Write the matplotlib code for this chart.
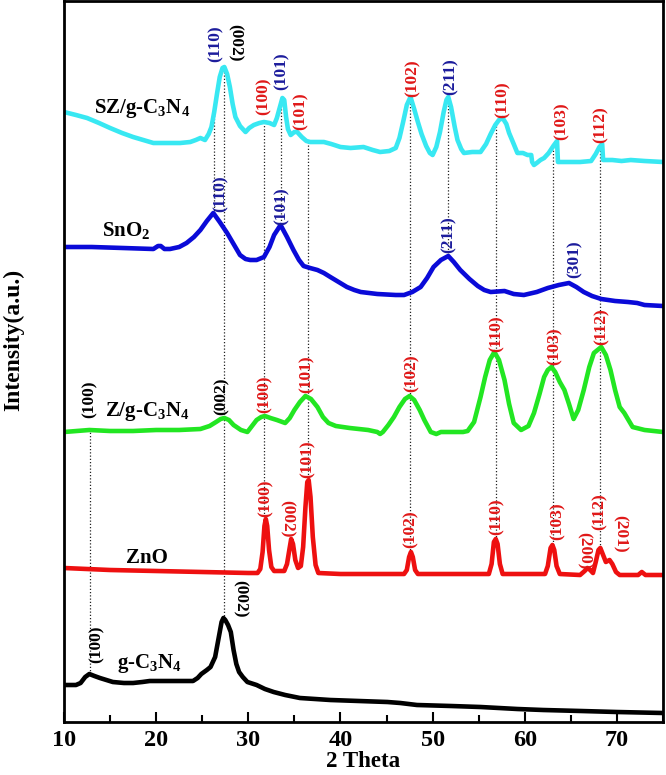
import numpy as np
import matplotlib
matplotlib.use("Agg")
import matplotlib.pyplot as plt

plt.rcParams['font.family'] = ['Liberation Serif', 'DejaVu Serif']
plt.rcParams['font.weight'] = 'bold'
plt.rcParams['mathtext.default'] = 'regular'

# ---------------- data (2 theta, stacked intensity a.u.) ----------------
gcn = [(10, 37), (11.3, 37), (11.8, 39), (12.3, 45), (12.75, 48), (13.3, 46), (13.9, 44), (14.6, 42),
       (15.3, 40), (16.5, 39), (17.5, 39), (18.5, 40), (19.3, 41), (21.0, 41), (23.0, 41), (24.0, 41),
       (24.5, 44), (24.9, 48), (25.5, 52), (25.9, 55), (26.4, 65), (26.8, 85), (27.1, 100), (27.3, 104),
       (27.5, 102), (27.8, 97), (28.1, 90), (28.4, 72), (28.7, 58), (29.0, 50), (29.4, 45), (29.9, 40),
       (30.9, 37), (31.8, 33), (32.75, 30), (34.0, 27), (35.6, 24), (38.9, 22), (42.0, 21), (45.1, 20),
       (46.5, 19), (48.3, 17), (52.0, 16), (55.2, 15), (59.2, 13), (62.0, 12), (66.1, 11), (70.0, 10),
       (75.0, 9)]

zno = [(10, 154), (15, 152), (20, 151), (25, 150), (30, 149), (31.0, 149), (31.3, 153), (31.55, 170),
       (31.75, 196), (31.9, 203), (32.05, 196), (32.25, 172), (32.5, 155), (32.8, 151), (33.2, 151),
       (33.9, 151), (34.2, 158), (34.45, 172), (34.65, 183), (34.85, 178), (35.1, 162), (35.4, 154),
       (35.7, 156), (35.95, 175), (36.2, 215), (36.4, 240), (36.55, 242), (36.75, 225), (37.0, 185),
       (37.3, 157), (37.6, 149), (40, 148), (45, 148), (46.9, 148), (47.2, 152), (47.45, 165),
       (47.65, 170), (47.85, 165), (48.1, 152), (48.4, 148), (50, 148), (55, 148), (56.1, 148),
       (56.4, 158), (56.65, 180), (56.85, 183), (57.05, 178), (57.3, 158), (57.6, 148), (60, 148),
       (62.2, 148), (62.5, 156), (62.8, 174), (63.0, 177), (63.2, 172), (63.45, 156), (63.8, 148),
       (66.0, 147), (66.5, 151), (66.8, 154), (67.1, 152), (67.4, 149), (67.7, 160), (68.0, 172),
       (68.2, 174), (68.5, 167), (68.8, 160), (69.2, 162), (69.5, 158), (69.9, 150), (70.3, 147),
       (72.3, 147), (72.7, 150), (73.1, 147), (75, 147)]

zgcn = [(10, 290), (12.75, 292), (15, 291), (17.5, 291), (20, 292), (22.5, 292), (24.8, 293), (25.8, 296),
        (26.5, 300), (27.0, 303), (27.4, 304), (27.9, 302), (28.4, 297), (29.2, 292), (29.9, 290),
        (30.4, 296), (30.9, 302), (31.4, 305), (31.8, 306), (32.4, 304), (33.1, 302), (34.0, 299),
        (34.5, 304), (35.0, 312), (35.6, 320), (36.2, 326), (36.8, 323), (37.5, 315), (38.1, 305),
        (38.7, 299), (39.5, 296), (41, 294), (43, 292), (44.0, 290), (44.3, 288), (44.6, 290),
        (45.2, 297), (45.8, 305), (46.4, 315), (47.0, 323), (47.5, 326), (48.0, 322), (48.6, 312),
        (49.1, 302), (49.8, 290), (50.4, 288), (50.9, 290), (52, 290), (53.3, 290), (53.8, 291),
        (54.5, 300), (55.2, 325), (55.7, 345), (56.2, 362), (56.7, 370), (57.2, 362), (57.8, 342),
        (58.3, 318), (58.8, 299), (59.6, 292), (60.4, 296), (61.0, 309), (61.6, 328), (62.1, 345),
        (62.5, 352), (62.9, 355), (63.3, 350), (63.8, 340), (64.3, 332), (64.8, 318), (65.3, 303),
        (65.8, 312), (66.4, 332), (67.0, 355), (67.5, 369), (68.3, 375), (68.8, 367), (69.3, 352),
        (69.8, 332), (70.3, 315), (70.8, 309), (71.7, 295), (73, 292), (75, 290)]

sno2 = [(10, 475), (13, 475), (16.4, 474), (19.7, 473), (20.2, 476), (20.5, 476), (20.9, 473),
        (21.5, 473), (22.5, 475), (23.3, 479), (24.1, 485), (24.8, 492), (25.5, 501), (26.2, 509),
        (26.9, 500), (27.7, 489), (28.4, 478), (29.1, 467), (29.7, 463), (30.2, 462), (30.9, 462),
        (31.7, 465), (32.3, 475), (32.8, 487), (33.5, 497), (34.2, 485), (34.9, 472), (35.5, 462),
        (36.0, 456), (36.7, 454), (37.5, 452), (38.2, 449), (38.9, 445), (39.8, 440), (40.7, 435),
        (41.5, 432), (42.2, 430), (44, 428), (46.0, 427), (46.9, 427), (47.8, 430), (48.7, 435),
        (49.4, 444), (50.1, 455), (50.9, 462), (51.7, 466), (52.3, 460), (53.0, 452), (54.0, 443),
        (54.9, 436), (55.6, 432), (56.3, 430), (57.8, 431), (58.8, 428), (59.9, 427), (61.3, 430),
        (62.5, 434), (63.7, 437), (64.8, 439), (65.6, 435), (66.4, 430), (67.3, 426), (68.3, 423),
        (69.8, 421), (71.2, 420), (72.2, 419), (73.0, 417), (75, 416)]

szgcn = [(10, 610), (11.3, 607), (12.5, 604), (13.8, 599), (15.0, 594), (16.3, 589), (17.5, 585),
         (18.6, 582), (19.7, 579), (21, 579), (22.6, 579), (23.7, 580), (24.3, 582), (24.8, 584),
         (25.3, 582), (25.7, 588), (26.0, 595), (26.3, 610), (26.6, 628), (26.9, 645), (27.2, 654),
         (27.4, 655), (27.7, 648), (28.0, 635), (28.3, 618), (28.6, 605), (29.1, 596), (29.7, 590),
         (30.1, 594), (30.6, 597), (31.2, 599), (31.7, 600), (32.3, 599), (32.8, 597), (33.1, 604),
         (33.4, 614), (33.7, 624), (33.9, 622), (34.1, 605), (34.3, 593), (34.6, 587), (35.0, 590),
         (35.3, 590), (35.8, 585), (36.3, 581), (36.7, 580), (37.5, 580), (38.2, 580), (39.0, 578),
         (40.0, 575), (41.1, 574), (42.5, 575), (43.5, 572), (44.3, 570), (45.3, 571), (46.0, 574),
         (46.4, 584), (46.8, 600), (47.2, 617), (47.6, 625), (48.0, 613), (48.4, 600), (48.8, 588),
         (49.3, 576), (49.7, 569), (50.0, 567), (50.4, 575), (50.8, 590), (51.2, 610), (51.5, 622),
         (51.7, 625), (52.0, 615), (52.4, 595), (52.7, 582), (53.1, 573), (53.4, 569), (54.3, 570),
         (55.2, 570), (55.8, 578), (56.3, 588), (56.8, 597), (57.2, 602), (57.6, 604), (58.0, 598),
         (58.3, 589), (58.8, 578), (59.2, 569), (59.8, 569), (60.3, 567), (60.7, 567), (60.8, 560),
         (61.0, 557), (61.3, 559), (61.7, 562), (62.1, 564), (62.6, 569), (63.1, 576), (63.5, 581),
         (63.6, 560), (64.5, 560), (66, 560), (67.2, 561), (67.7, 568), (68.1, 575), (68.4, 578),
         (68.5, 562), (69.5, 562), (70.5, 561), (71.5, 562), (73, 561), (75, 560)]

# curve names: (text, theta of left edge, baseline intensity)
names = [("SZ/g-C$_3$N$_4$", 13.3, 609), ("SnO$_2$", 14.1, 486), ("Z/g-C$_3$N$_4$", 14.5, 306),
         ("ZnO", 16.7, 159), ("g-C$_3$N$_4$", 15.8, 54)]

# hkl labels: (text, theta, intensity at label foot, phase, rotation)
hkl = [("(110)", 26.5, 660, "S", 90), ("(002)", 28.5, 660, "G", 270), ("(100)", 31.7, 607, "Z", 90),
       ("(101)", 33.6, 632, "S", 90), ("(101)", 35.7, 592, "Z", 90), ("(102)", 47.8, 625, "Z", 90),
       ("(211)", 52.0, 627, "S", 90), ("(110)", 57.6, 604, "Z", 90), ("(103)", 64.0, 582, "Z", 90),
       ("(112)", 68.2, 579, "Z", 90),
       ("(110)", 27.0, 510, "S", 90), ("(101)", 33.6, 497, "S", 90), ("(211)", 51.7, 469, "S", 90),
       ("(301)", 65.4, 444, "S", 90),
       ("(100)", 12.75, 304, "G", 90), ("(002)", 27.1, 307, "G", 90), ("(100)", 31.8, 309, "Z", 90),
       ("(101)", 36.3, 329, "Z", 90), ("(102)", 47.7, 330, "Z", 90), ("(110)", 56.9, 370, "Z", 90),
       ("(103)", 63.2, 357, "Z", 90), ("(112)", 68.3, 377, "Z", 90),
       ("(100)", 31.9, 205, "Z", 90), ("(002)", 34.2, 185, "Z", 270), ("(101)", 36.4, 244, "Z", 90),
       ("(102)", 47.6, 174, "Z", 90), ("(110)", 57.0, 187, "Z", 90), ("(103)", 63.6, 182, "Z", 90),
       ("(200)", 66.4, 152, "Z", 270), ("(112)", 68.1, 192, "Z", 90), ("(201)", 70.3, 169, "Z", 270),
       ("(100)", 13.55, 59, "G", 90), ("(002)", 29.1, 104, "G", 270)]

# reference lines: (theta, upper curve, lower curve)
ref_lines = [(12.8, "zgcn", "gcn"), (26.3, "szgcn", "sno2"), (27.4, "szgcn", "gcn"),
             (31.7, "szgcn", "zno"), (33.6, "szgcn", "sno2"), (36.5, "szgcn", "zno"),
             (47.6, "szgcn", "zno"), (51.7, "szgcn", "sno2"), (56.9, "szgcn", "zno"),
             (63.1, "szgcn", "zno"), (68.2, "szgcn", "zno")]

# ---------------- drawing ----------------
curves = {"gcn": (gcn, "#000000"), "zno": (zno, "#ee1010"), "zgcn": (zgcn, "#22e622"),
          "sno2": (sno2, "#0a0ad8"), "szgcn": (szgcn, "#38e8f2")}
label_colors = {"S": "#1c1c9c", "Z": "#e01818", "G": "#000000"}

fig = plt.figure(figsize=(6.66, 7.75), dpi=100)
ax = fig.add_axes([64 / 666, 53 / 775, 599 / 666, 721 / 775])
ax.set_xlim(10, 75)
ax.set_ylim(0, 721)

arr = {k: np.array(v[0], dtype=float) for k, v in curves.items()}
for k, (pts, col) in curves.items():
    a = arr[k]
    ax.plot(a[:, 0], a[:, 1], color=col, lw=3.3, solid_joinstyle='round', solid_capstyle='round', zorder=2)

for pos, top, bot in ref_lines:
    y1 = np.interp(pos, arr[top][:, 0], arr[top][:, 1])
    y0 = np.interp(pos, arr[bot][:, 0], arr[bot][:, 1])
    ax.vlines(pos, y0, y1, colors='#222222', linestyles=(0, (1, 1.6)), lw=0.9, zorder=1)

for txt, th, y, ph, rot in hkl:
    ax.text(th, y, txt, rotation=rot, ha='center', va='bottom', fontsize=12.5,
            fontweight='bold', color=label_colors[ph], zorder=3)

for txt, th, y in names:
    ax.text(th, y, txt, ha='left', va='baseline', fontsize=15, fontweight='bold', color='black', zorder=3)

ax.set_xticks(np.arange(10, 80, 10))
ax.set_xticks(np.arange(15, 80, 10), minor=True)
ax.set_yticks([])
ax.tick_params(axis='x', which='major', direction='in', length=7, width=1.5, pad=6,
               labelsize=17.5)
ax.tick_params(axis='x', which='minor', direction='in', length=5, width=1.5)
for lab in ax.get_xticklabels():
    lab.set_fontweight('bold')
for s in ax.spines.values():
    s.set_linewidth(2)

ax.set_xlabel("2 Theta", fontsize=16.5, fontweight='bold', labelpad=0)
ax.set_ylabel("Intensity(a.u.)", fontsize=17, fontweight='bold')
ax.yaxis.set_label_coords(-0.066, 0.53)

fig.savefig("out.png", dpi=100)
